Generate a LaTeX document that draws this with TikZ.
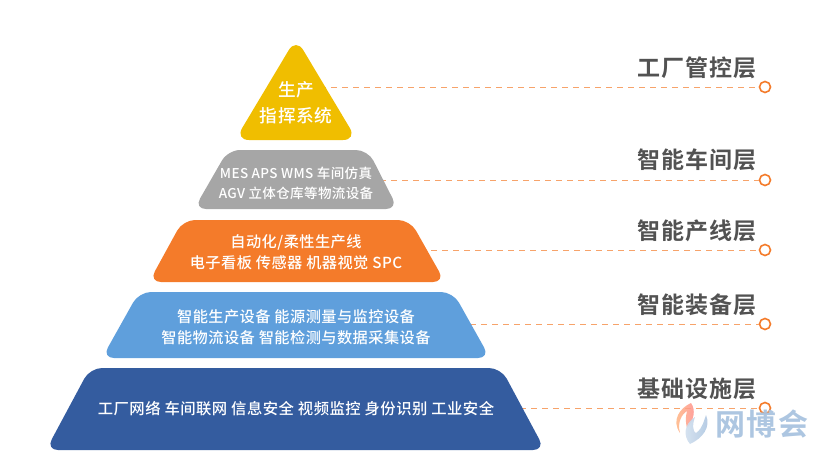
\documentclass[tikz,border=0pt]{standalone}
\usepackage{fontspec}
\newfontfamily\cjkfont[LetterSpace=3]{Noto Sans CJK SC Medium}
\newfontfamily\cjkbold[LetterSpace=4]{Noto Sans CJK SC Bold}
\definecolor{capyellow}{HTML}{F0BE00}
\definecolor{wsgray}{HTML}{A6A6A6}
\definecolor{lineorange}{HTML}{F47B2A}
\definecolor{equipblue}{HTML}{5F9FDC}
\definecolor{basenavy}{HTML}{345C9F}
\definecolor{logoblue}{HTML}{A9C3DF}
\tikzset{
	layer/.style={rounded corners=12pt},
	intext/.style={text=white,align=center,font=\fontsize{15.2}{21}\cjkfont},
	tag/.style={text=black!68,font=\fontsize{23}{25}\cjkbold},
	ring/.style={circle,draw=lineorange,fill=white,line width=1.6pt,minimum size=11pt,inner sep=0pt},
	guide/.style={draw=lineorange!70,line width=0.9pt,dash pattern=on 6pt off 5pt},
}
\begin{document}
\begin{tikzpicture}[x=1pt,y=-1pt]
	\useasboundingbox (0,0) rectangle (817,456);
	% dashed guides first, layers on top
	\coordinate (c1) at (320,87);
	\coordinate (c2) at (380,180);
	\coordinate (c3) at (420,250);
	\coordinate (c4) at (470,324);
	\coordinate (c5) at (520,408);
	\node[ring] (r1) at (765,87) {};
	\node[ring] (r2) at (765,180) {};
	\node[ring] (r3) at (765,250) {};
	\node[ring] (r4) at (765,324) {};
	\node[ring] (r5) at (765,408) {};
	\foreach \i in {1,...,5}
		\draw[guide] (c\i) -- (r\i);
	% pyramid
	\fill[capyellow,rounded corners=14pt] (296,38) -- (357,140) -- (235,140) -- cycle;
	\fill[wsgray,layer] (228,150) -- (368,150) -- (398,209) -- (194,209) -- cycle;
	\fill[lineorange,layer] (183,220) -- (410,220) -- (445,282) -- (149,282) -- cycle;
	\fill[equipblue,layer] (139,292) -- (453,292) -- (490,358) -- (102,358) -- cycle;
	\fill[basenavy,layer] (90,368) -- (501,368) -- (545,450) -- (46,450) -- cycle;
	% texts
	\node[intext,font=\fontsize{17.7}{26}\cjkfont] (t1) at (296,103) {生产\\指挥系统};
	\node[intext,font=\fontsize{13.5}{20}\cjkfont] (t2) at (296,183) {MES APS WMS 车间仿真\\AGV 立体仓库等物流设备};
	\node[intext] (t3) at (296,252) {自动化/柔性生产线\\电子看板 传感器 机器视觉 SPC};
	\node[intext] (t4) at (296,327) {智能生产设备 能源测量与监控设备\\智能物流设备 智能检测与数据采集设备};
	\node[intext,font=\fontsize{15.35}{21}\cjkfont] (t5) at (296,409) {工厂网络 车间联网 信息安全 视频监控 身份识别 工业安全};
	\node[tag] (l1) at (697,68) {工厂管控层};
	\node[tag] (l2) at (697,160) {智能车间层};
	\node[tag] (l3) at (697,231) {智能产线层};
	\node[tag] (l4) at (697,305) {智能装备层};
	\node[tag] (l5) at (697,389) {基础设施层};
	% logo
	\shade[left color=orange!50,right color=red!45,opacity=.85] (691,403) .. controls (680,408) and (671,420) .. (680,433)
		.. controls (677,422) and (682,414) .. (687,411) .. controls (685,418) and (686,424) .. (687,428)
		.. controls (694,420) and (696,410) .. (691,403) -- cycle;
	\shade[left color=logoblue!50,right color=logoblue,opacity=.9] (690,444) .. controls (683,436) and (684,424) .. (695,417)
		.. controls (692,425) and (693,432) .. (696,433) .. controls (703,428) and (704,420) .. (706,415)
		.. controls (711,427) and (703,438) .. (690,444) -- cycle;
	\node[text=logoblue,opacity=.95,font=\fontsize{30}{31}\selectfont\cjkbold] (logo) at (762,424) {网博会};
\end{tikzpicture}
\end{document}
